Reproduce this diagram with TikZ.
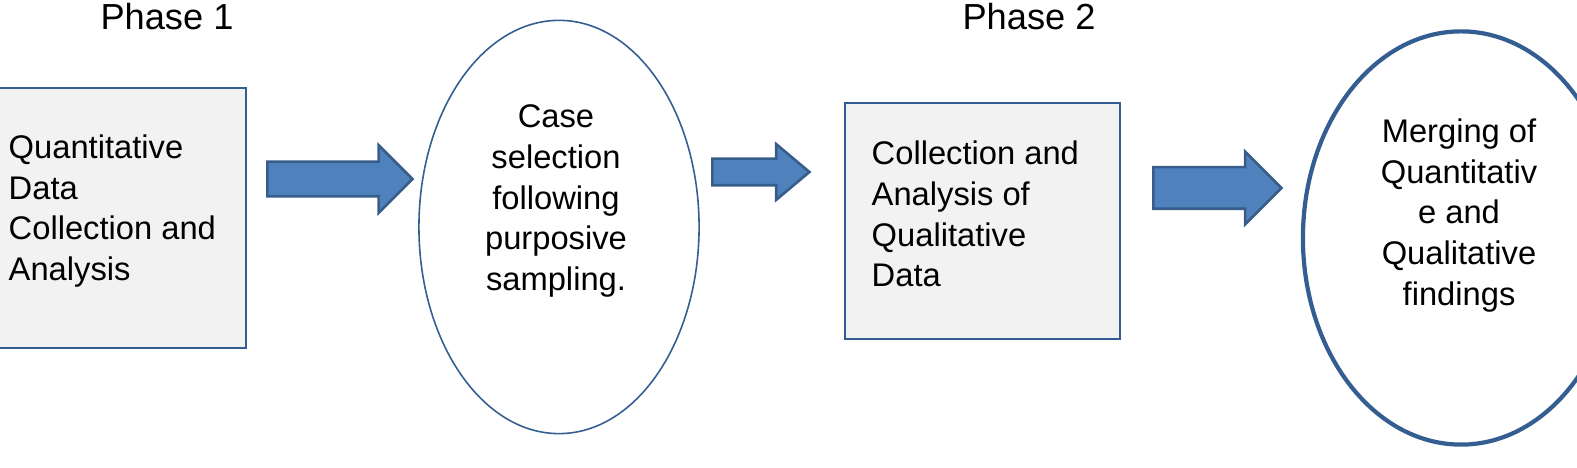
\documentclass[tikz,border=0pt]{standalone}
\usepackage{fontspec}
\setmainfont{Liberation Sans}
\usetikzlibrary{shapes.geometric,shapes.arrows}
\definecolor{boxfill}{RGB}{242,242,242}
\definecolor{edgeblue}{RGB}{52,94,146}
\definecolor{arrowfill}{RGB}{79,129,189}
\definecolor{arrowline}{RGB}{56,93,138}
\begin{document}
\begin{tikzpicture}[x=0.01cm,y=-0.01cm,
  databox/.style={draw=edgeblue,fill=boxfill,line width=0.6pt,inner sep=0pt},
  caseoval/.style={ellipse,draw=edgeblue,line width=0.45pt,inner sep=0pt},
  mergeoval/.style={ellipse,draw=edgeblue,line width=1.2pt,inner sep=0pt},
  bodytext/.style={inner sep=0pt,font=\fontsize{9.3pt}{11.6pt}\selectfont},
  phasetext/.style={inner sep=0pt,font=\fontsize{10.3pt}{12pt}\selectfont},
  blockarrow/.style={single arrow,draw=arrowline,fill=arrowfill,line width=0.75pt,
    inner xsep=0pt,single arrow head indent=0pt,anchor=tail}]
\useasboundingbox (0,0) rectangle (1577,468);
\clip (0,0) rectangle (1577,468);
% 阶段标题
\node[phasetext] (phase1) at (167,17) {Phase 1};
\node[phasetext] (phase2) at (1029,17) {Phase 2};
% ---------- 定量阶段 ----------
\node[databox,minimum width=2.48cm,minimum height=2.6cm] (quant) at (122,218) {};
\node[bodytext,anchor=west,align=left] (quanttxt) at (8,211)
  {Quantitative\\Data\\Collection and\\Analysis};
\node[blockarrow,minimum height=1.45cm,minimum width=0.65cm,
  inner ysep=0.16cm,single arrow head extend=0.165cm] (arrowA) at (266,179) {};
% ---------- 个案选择 ----------
\node[caseoval,minimum width=2.8cm,minimum height=4.13cm] (cases) at (559,227) {};
\node[bodytext,align=center] (casestxt) at (556,201)
  {Case\\selection\\following\\purposive\\sampling.};
\node[blockarrow,minimum height=0.97cm,minimum width=0.53cm,single arrow tip angle=80,
  inner ysep=0.12cm,single arrow head extend=0.145cm] (arrowB) at (711,172) {};
% ---------- 定性阶段 ----------
\node[databox,minimum width=2.74cm,minimum height=2.35cm] (qual) at (982.5,221) {};
\node[bodytext,anchor=west,align=left] (qualtxt) at (871,214)
  {Collection and\\Analysis of\\Qualitative\\Data};
\node[blockarrow,minimum height=1.28cm,minimum width=0.7cm,
  inner ysep=0.195cm,single arrow head extend=0.155cm] (arrowC) at (1152,188) {};
% ---------- 结果合并 ----------
\node[mergeoval,minimum width=3.16cm,minimum height=4.13cm] (merge) at (1461,238) {};
\node[bodytext,align=center] (mergetxt) at (1459,215.5)
  {Merging of\\Quantitativ\\e and\\Qualitative\\findings};
\end{tikzpicture}
\end{document}
